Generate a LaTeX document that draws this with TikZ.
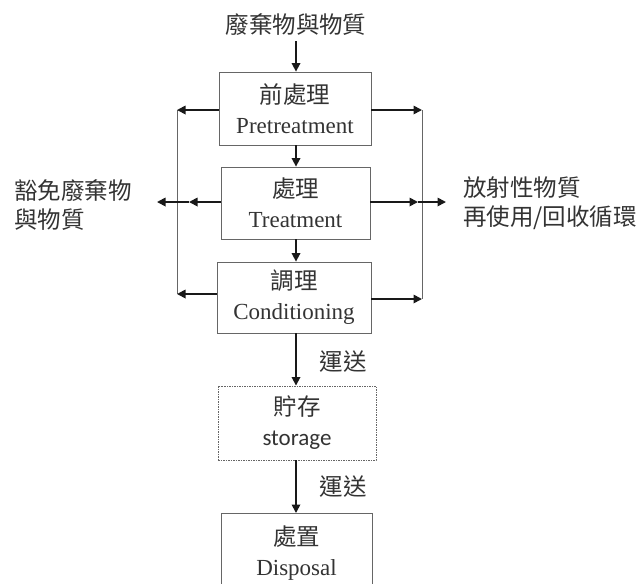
\documentclass[tikz,border=0pt]{standalone}
\usepackage{fontspec}
\setmainfont{Liberation Serif}
\newfontfamily\cjk{Noto Sans CJK TC}
\newfontfamily\carl{Carlito}
\usetikzlibrary{arrows.meta}
\definecolor{txt}{HTML}{333333}
\definecolor{boxgray}{HTML}{666666}
\begin{document}
\begin{tikzpicture}[x=1pt,y=-1pt,
  box/.style={draw=boxgray,line width=0.8pt,align=center,inner sep=0pt,text=txt,font=\fontsize{23}{30}\selectfont},
  dotbox/.style={box,dash pattern=on 1.5pt off 1pt,line width=0.9pt},
  arr/.style={draw=black!90,line width=1.7pt,-{Triangle[length=8.5pt,width=8.5pt]}},
  side/.style={draw=boxgray,line width=0.8pt},
  lab/.style={text=txt,font=\cjk\fontsize{23.5}{29}\selectfont,inner sep=0pt}]
\useasboundingbox (0,0) rectangle (641,584);
% title
\node[lab] (t) at (296,25) {廢棄物與物質};
% boxes
\node[box,minimum width=152pt,minimum height=73pt] (b1) at (295,108.5) {{\cjk\fontsize{23.5}{30}\selectfont 前處理}\\Pretreatment};
\node[box,minimum width=149pt,minimum height=72pt] (b2) at (295.5,203) {{\cjk\fontsize{23.5}{30}\selectfont 處理}\\Treatment};
\node[box,minimum width=154pt,minimum height=71pt] (b3) at (294,297.5) {{\cjk\fontsize{23.5}{30}\selectfont 調理}\\Conditioning};
\node[dotbox,minimum width=158pt,minimum height=74pt] (st) at (297,423) {{\cjk\fontsize{23.5}{31}\selectfont 貯存}\\{\carl storage}};
\node[box,minimum width=151pt,minimum height=80pt,anchor=north] (dp) at (296.5,513) {{\cjk\fontsize{23.5}{29}\selectfont 處置}\\Disposal};
% side labels
\node[lab,anchor=west,align=left] (ex) at (14,205.5) {豁免廢棄物\\與物質};
\node[lab,anchor=west,align=left] (rc) at (463,203) {放射性物質\\再使用/回收循環};
\node[lab] (tr1) at (343,362) {運送};
\node[lab] (tr2) at (343,487) {運送};
% coordinates
\coordinate (cx) at (296,0);
\coordinate (l1) at (177,110);
\coordinate (r1) at (422,110);
\coordinate (l3) at (177,294);
\coordinate (r3) at (422,299);
\coordinate (lm) at (189,202);
\coordinate (le) at (157,202);
\coordinate (rm) at (418,202);
\coordinate (re) at (446,202);
% side lines
\draw[side] (l1) -- (l3);
\draw[side] (r1) -- (r3);
% main arrows
\draw[arr] ([yshift=-5pt]t.south -| cx) -- (b1.north -| cx);
\draw[arr] (b1.south -| cx) -- (b2.north -| cx);
\draw[arr] (b2.south -| cx) -- (b3.north -| cx);
\draw[arr] (b3.south -| cx) -- (st.north -| cx);
\draw[arr] (st.south -| cx) -- (dp.north -| cx);
% horizontal arrows
\draw[arr] (b1.west |- l1) -- (l1);
\draw[arr] (b1.east |- r1) -- (r1);
\draw[arr] (b2.west |- lm) -- (lm);
\draw[arr] (lm) -- (le);
\draw[arr] (b2.east |- rm) -- (rm);
\draw[arr] (rm) -- (re);
\draw[arr] (b3.west |- l3) -- (l3);
\draw[arr] (b3.east |- r3) -- (r3);
\end{tikzpicture}
\end{document}
